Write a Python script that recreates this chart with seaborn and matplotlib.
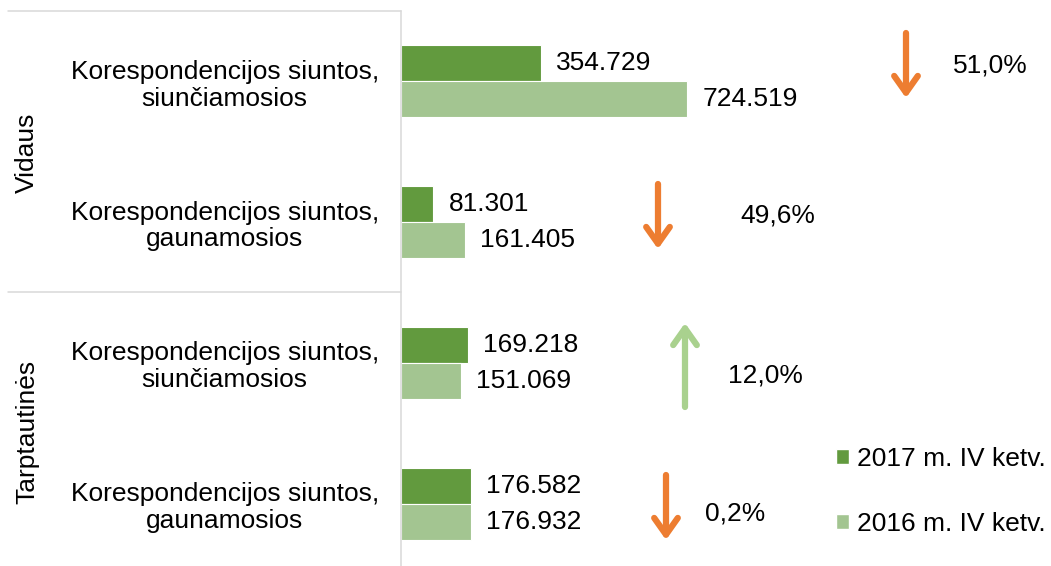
"""
Pašto siuntų palyginimas: 2017 m. IV ketv. prieš 2016 m. IV ketv.
Horizontal grouped bar chart with change arrows.
"""

import matplotlib.pyplot as plt
from matplotlib.lines import Line2D
from matplotlib.patches import Patch, FancyArrowPatch
import pandas as pd
import seaborn as sns

# --- data -------------------------------------------------------------
groups = ["Vidaus", "Tarptautinės"]
category_keys = ["vid_s", "vid_g", "tarpt_s", "tarpt_g"]
category_labels = [
    "Korespondencijos siuntos,\nsiunčiamosios",
    "Korespondencijos siuntos,\ngaunamosios",
    "Korespondencijos siuntos,\nsiunčiamosios",
    "Korespondencijos siuntos,\ngaunamosios",
]
series = ["2017 m. IV ketv.", "2016 m. IV ketv."]
values_2017 = [354729, 81301, 169218, 176582]
values_2016 = [724519, 161405, 151069, 176932]

# --- style ------------------------------------------------------------
W, H = 1051, 566
DARK = "#629A3E"
LIGHT = "#A3C591"
ORANGE = "#ED7D31"
UP_GREEN = "#A9D18E"
GRID = "#D9D9D9"
FS = 19

# arrow / label layout in figure pixels (from top-left)
arrow_x = [906, 658, 685, 666]
arrow_top = [33, 184, 323, 475]
arrow_bottom = [98, 249, 407, 540]
pct_xy = [(990, 66), (778, 216), (765, 376), (735, 513)]


def fx(x):
    return x / W


def fy(y):
    return 1 - y / H


def lt_thousands(v):
    return f"{v:,}".replace(",", ".")


sns.set_style("white")
plt.rcParams["font.family"] = ["Liberation Sans", "DejaVu Sans"]
plt.rcParams["font.size"] = FS
plt.rcParams["text.color"] = "black"
plt.rcParams["ytick.color"] = "black"
plt.rcParams["ytick.labelcolor"] = "black"

df = pd.DataFrame({
    "kategorija": category_keys * 2,
    "laikotarpis": [series[0]] * 4 + [series[1]] * 4,
    "siuntos": values_2017 + values_2016,
})

fig = plt.figure(figsize=(W / 100, H / 100), dpi=100)
ax = fig.add_axes([fx(401), fy(574), fx(1051) - fx(401), fy(11) - fy(574)])

sns.barplot(
    data=df, y="kategorija", x="siuntos", hue="laikotarpis",
    order=category_keys, hue_order=series, palette=[DARK, LIGHT],
    saturation=1, orient="h", width=0.51, edgecolor="white", linewidth=0.8,
    legend=False, ax=ax,
)

ax.set_xlim(0, 1.645e6)
ax.set_xticks([])
ax.set_xlabel("")
ax.set_ylabel("")
ax.set_yticks(range(len(category_keys)))
ax.set_yticklabels(category_labels)
for lab in ax.get_yticklabels():
    lab.set_multialignment("center")
    lab.set_linespacing(1.15)
    lab.set_color("black")
    lab.set_y(lab.get_position()[1])
ax.tick_params(axis="y", length=0, pad=16, labelsize=FS)

for side in ["top", "right", "bottom"]:
    ax.spines[side].set_visible(False)
ax.spines["left"].set_color(GRID)
ax.spines["left"].set_linewidth(1.1)

# value labels
for cont, vals in zip(ax.containers, [values_2017, values_2016]):
    ax.bar_label(cont, labels=[lt_thousands(v) for v in vals], padding=11,
                 fontsize=FS, color="black")

# group separators and group names
for y in [11, 292, 574]:
    fig.add_artist(Line2D([fx(8), fx(401)], [fy(y), fy(y)], color=GRID, lw=1.1,
                          transform=fig.transFigure))
for name, yc in zip(groups, [153, 432]):
    fig.text(fx(27), fy(yc), name, rotation=90, ha="center", va="center", fontsize=FS)

# change arrows with percentages
for i in range(len(values_2017)):
    change = (values_2017[i] - values_2016[i]) / values_2016[i] * 100
    if change < 0:
        tail, tip, col = arrow_top[i], arrow_bottom[i], ORANGE
    else:
        tail, tip, col = arrow_bottom[i], arrow_top[i], UP_GREEN
    arr = FancyArrowPatch(
        (fx(arrow_x[i]), fy(tail)), (fx(arrow_x[i]), fy(tip)),
        arrowstyle="->,head_length=12,head_width=8.5", mutation_scale=1,
        lw=4.5, color=col, capstyle="round", joinstyle="round",
        shrinkA=0, shrinkB=0, transform=fig.transFigure,
    )
    fig.add_artist(arr)
    txt = f"{abs(change):.1f}%".replace(".", ",")
    fig.text(fx(pct_xy[i][0]), fy(pct_xy[i][1]), txt, ha="center", va="center", fontsize=FS)

# legend
handles = [Patch(facecolor=DARK), Patch(facecolor=LIGHT)]
fig.legend(
    handles, series, loc="upper left", bbox_to_anchor=(fx(836), fy(447)),
    frameon=False, handlelength=0.5, handleheight=0.5, handletextpad=0.3,
    labelspacing=1.55, borderpad=0, borderaxespad=0, fontsize=FS,
)

fig.savefig("out.png", dpi=100)
